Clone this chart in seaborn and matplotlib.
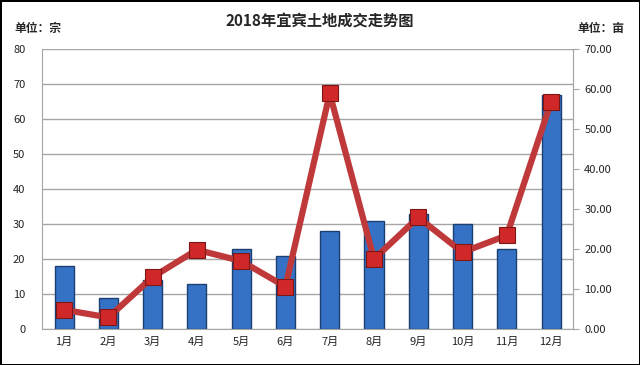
import pandas as pd
import numpy as np
import matplotlib
matplotlib.use('Agg')
import matplotlib.pyplot as plt
import seaborn as sns

# Monthly data
months = ['1月', '2月', '3月', '4月', '5月', '6月', '7月', '8月', '9月', '10月', '11月', '12月']
deals = [18, 9, 14, 13, 23, 21, 28, 31, 33, 30, 23, 67]           # 宗 (left axis)
area = [4.8, 2.9, 13.0, 19.8, 17.0, 10.6, 58.9, 17.5, 27.9, 19.2, 23.4, 56.8]  # 亩 (right axis)

df = pd.DataFrame({'month': months, 'deals': deals, 'area': area})

sns.set_style('white')
plt.rcParams['font.family'] = ['Noto Sans CJK SC', 'DejaVu Sans']

fig = plt.figure(figsize=(6.4, 3.65), dpi=100, edgecolor='black', linewidth=2)
ax = fig.add_axes([0.0656, 0.0986, 0.83, 0.767])

sns.barplot(data=df, x='month', y='deals', order=months, color='#3572c6',
            saturation=1, width=0.43, edgecolor='#1b3f73', linewidth=1, ax=ax, zorder=2)
ax.set_ylim(0, 80)
ax.set_yticks(range(0, 81, 10))
ax.yaxis.grid(True, color='#a6a6a6', linewidth=1)
ax.set_axisbelow(True)
ax.set_xlabel('')
ax.set_ylabel('')
ax.tick_params(axis='both', labelsize=8, length=0, colors='#222222')
ax.tick_params(axis='y', pad=12)
ax.tick_params(axis='x', pad=6)
for s in ['left', 'bottom', 'right', 'top']:
    ax.spines[s].set_color('#a6a6a6')
ax.spines['top'].set_visible(False)

ax2 = ax.twinx()
sns.pointplot(data=df, x='month', y='area', order=months, color='#c0393a',
              markers='s', markersize=12, linewidth=4.5, ax=ax2,
              markeredgecolor='#7e1616', markerfacecolor='#d02828',
              markeredgewidth=0.8, zorder=3)
ax2.set_ylim(0, 70)
ax2.set_yticks(range(0, 71, 10))
ax2.set_yticklabels([f'{v:.2f}' for v in range(0, 71, 10)])
ax2.set_ylabel('')
ax2.tick_params(axis='y', labelsize=8, length=4, color='#a6a6a6', labelcolor='#222222', pad=4)
ax2.spines['right'].set_color('#a6a6a6')
for s in ['left', 'bottom', 'top']:
    ax2.spines[s].set_visible(False)
ax.set_xlim(-0.5, len(months) - 0.5)
ax2.set_xlim(-0.5, len(months) - 0.5)

fig.text(0.5, 0.942, '2018年宜宾土地成交走势图', ha='center', va='center',
         fontsize=11, fontweight='bold')
fig.text(0.022, 0.922, '单位：宗', ha='left', va='center', fontsize=8.5, fontweight='bold')
fig.text(0.975, 0.922, '单位：亩', ha='right', va='center', fontsize=8.5, fontweight='bold')

fig.savefig('out.png', dpi=100)
